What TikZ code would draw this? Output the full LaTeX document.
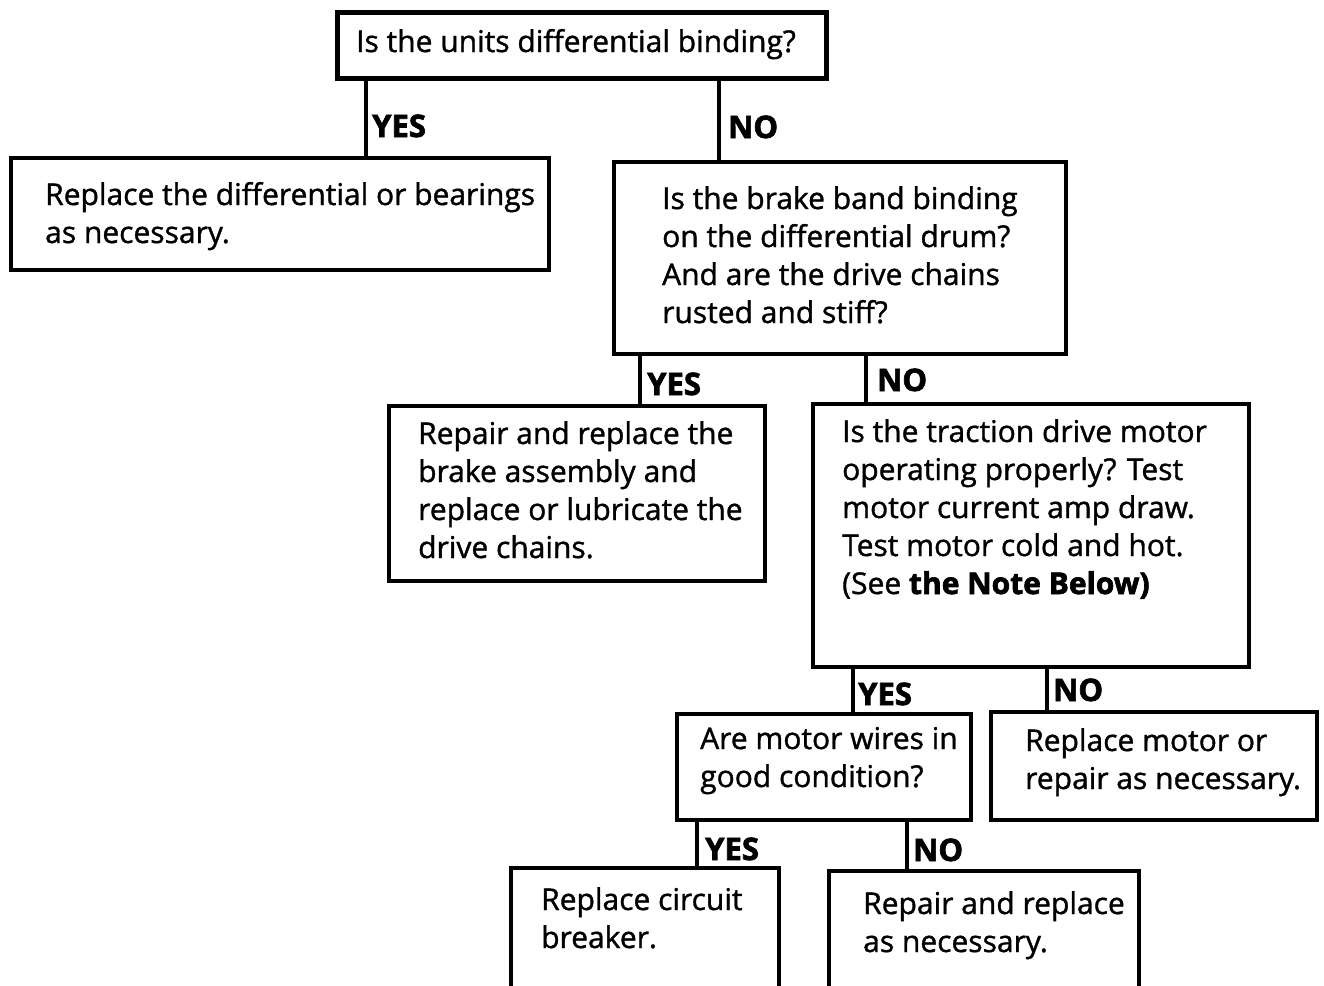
\documentclass[tikz,border=0pt]{standalone}
\usepackage{fontspec}
\setmainfont{Open Sans}[RawFeature={embolden=1.2}, BoldFeatures={RawFeature={embolden=2.2}}]
\newcommand{\lines}[1]{\parbox[t]{1000pt}{\raggedright #1}}
\begin{document}
\begin{tikzpicture}[x=1pt,y=-1pt,
  box/.style={draw, line width=3.2pt, rectangle, inner sep=0pt, outer sep=0pt, anchor=north west},
  topbox/.style={box, line width=5pt},
  link/.style={line width=3.2pt},
  txt/.style={inner sep=0pt, anchor=base west, font=\fontsize{30}{38}\selectfont},
  ans/.style={inner sep=0pt, anchor=base west, font=\fontsize{31}{32}\selectfont\bfseries}]
\clip (0,0) rectangle (1324,985);
\fill[white] (0,0) rectangle (1324,985);

% boxes
\node[topbox, minimum width=489pt, minimum height=66pt] (T) at (337,12) {};
\node[box, minimum width=538pt, minimum height=112pt] (A) at (11,158) {};
\node[box, minimum width=452pt, minimum height=192pt] (B) at (614,162) {};
\node[box, minimum width=376pt, minimum height=175pt] (C) at (389,406) {};
\node[box, minimum width=436pt, minimum height=263pt] (D) at (813,404) {};
\node[box, minimum width=294pt, minimum height=106pt] (E) at (677,714) {};
\node[box, minimum width=326pt, minimum height=108pt] (F) at (991,712) {};
\node[box, minimum width=268pt, minimum height=200pt] (G) at (511,868) {};
\node[box, minimum width=310pt, minimum height=200pt] (H) at (829,871) {};

% box texts
\node[txt] (Tt) at (356,52) {\lines{Is the units differential binding?}};
\node[txt] (At) at (45,205) {\lines{Replace the differential or bearings\\as necessary.}};
\node[txt] (Bt) at (662,209) {\lines{Is the brake band binding\\on the differential drum?\\And are the drive chains\\rusted and stiff?}};
\node[txt] (Ct) at (418,444) {\lines{Repair and replace the\\brake assembly and\\replace or lubricate the\\drive chains.}};
\node[txt] (Dt) at (842,442) {\lines{Is the traction drive motor\\operating properly? Test\\motor current amp draw.\\Test motor cold and hot.\\(See \textbf{the Note Below)}}};
\node[txt] (Et) at (700,749) {\lines{Are motor wires in\\good condition?}};
\node[txt] (Ft) at (1025,751) {\lines{Replace motor or\\repair as necessary.}};
\node[txt] (Gt) at (541,910) {\lines{Replace circuit\\breaker.}};
\node[txt] (Ht) at (863,914) {\lines{Repair and replace\\as necessary.}};

% connector columns
\coordinate (c1) at (366,0);
\coordinate (c2) at (719,0);
\coordinate (c3) at (640,0);
\coordinate (c4) at (866,0);
\coordinate (c5) at (853,0);
\coordinate (c6) at (1047,0);
\coordinate (c7) at (697,0);
\coordinate (c8) at (907,0);

\draw[link] (T.south -| c1) -- (A.north -| c1);
\draw[link] (T.south -| c2) -- (B.north -| c2);
\draw[link] (B.south -| c3) -- (C.north -| c3);
\draw[link] (B.south -| c4) -- (D.north -| c4);
\draw[link] (D.south -| c5) -- (E.north -| c5);
\draw[link] (D.south -| c6) -- (F.north -| c6);
\draw[link] (E.south -| c7) -- (G.north -| c7);
\draw[link] (E.south -| c8) -- (H.north -| c8);

% answer labels
\node[ans] (y1) at (372,137) {YES};
\node[ans] (n1) at (728,138) {NO};
\node[ans] (y2) at (647,395) {YES};
\node[ans] (n2) at (877,391) {NO};
\node[ans] (y3) at (858,705) {YES};
\node[ans] (n3) at (1053,701) {NO};
\node[ans] (y4) at (705,860) {YES};
\node[ans] (n4) at (913,861) {NO};
\end{tikzpicture}
\end{document}
